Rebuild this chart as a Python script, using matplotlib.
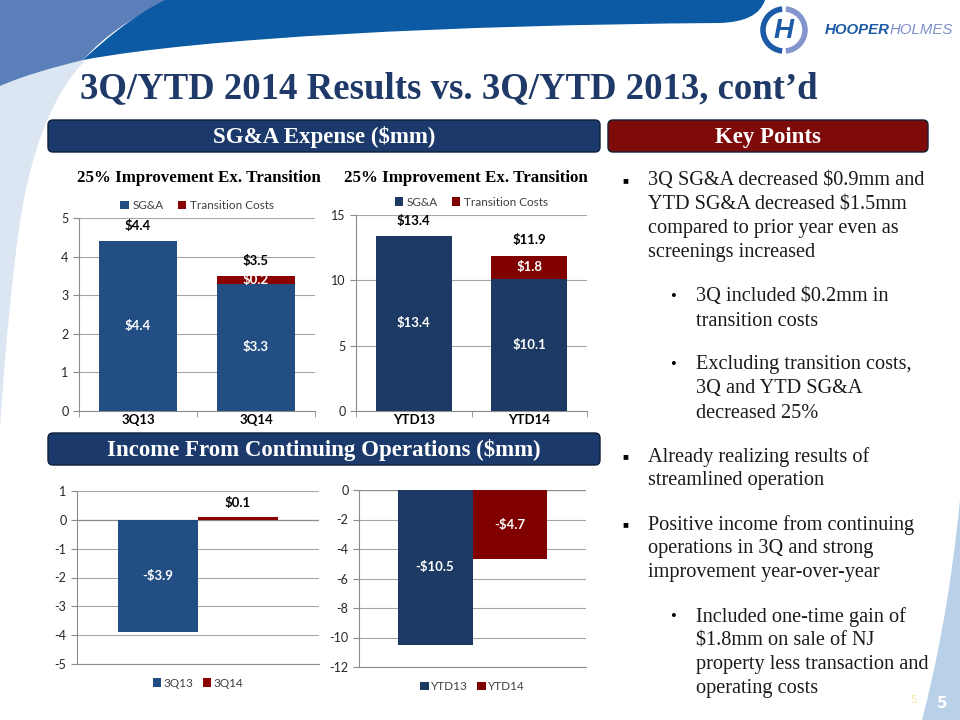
import numpy as np
import matplotlib.pyplot as plt
from matplotlib.patches import FancyBboxPatch, PathPatch, Arc
from matplotlib.path import Path

plt.rcParams['axes.unicode_minus'] = False

# ---- data ----
sga_q_cats = ['3Q13', '3Q14']
sga_q_base = [4.4, 3.3]
sga_q_trans = [0.0, 0.2]

sga_ytd_cats = ['YTD13', 'YTD14']
sga_ytd_base = [13.4, 10.1]
sga_ytd_trans = [0.0, 1.8]

inc_q_cats = ['3Q13', '3Q14']
inc_q = [-3.9, 0.1]

inc_ytd_cats = ['YTD13', 'YTD14']
inc_ytd = [-10.5, -4.7]

sub_title = '25% Improvement Ex. Transition'
key_points = [
    (0, ['3Q SG&A decreased $0.9mm and', 'YTD SG&A decreased $1.5mm',
         'compared to prior year even as', 'screenings increased']),
    (1, ['3Q included $0.2mm in', 'transition costs']),
    (1, ['Excluding transition costs,', '3Q and YTD SG&A', 'decreased 25%']),
    (0, ['Already realizing results of', 'streamlined operation']),
    (0, ['Positive income from continuing', 'operations in 3Q and strong',
         'improvement year-over-year']),
    (1, ['Included one-time gain of', '$1.8mm on sale of NJ',
         'property less transaction and', 'operating costs']),
]

SERIF = 'Liberation Serif'
SANS = 'Lato'
NAVY = '#1B3A6B'
RED = '#7E0A0A'
GRID = '#A6A6A6'


def esc(s):
    return s.replace('$', r'\$')


def money(v):
    return esc(('-$%.1f' if v < 0 else '$%.1f') % abs(v))


def rect(l, t, r, b):
    return [l / 960, 1 - b / 720, (r - l) / 960, (b - t) / 720]


fig = plt.figure(figsize=(9.6, 7.2), dpi=100)

# background layer in pixel coordinates
bg = fig.add_axes([0, 0, 1, 1], zorder=-5)
bg.set_xlim(0, 960)
bg.set_ylim(720, 0)
bg.axis('off')

M, L, C = Path.MOVETO, Path.LINETO, Path.CURVE4
light = Path([(0, 0), (100, 0), (90, 55),
              (45, 100), (25, 170), (15, 260),
              (8, 320), (3, 380), (0, 430), (0, 0)],
             [M, L, L, C, C, C, C, C, C, L])
bg.add_patch(PathPatch(light, fc='#DCE6F2', ec='none'))
medium = Path([(0, 0), (170, 0), (135, 15), (105, 35), (83, 60),
               (55, 67), (25, 75), (0, 86), (0, 0)],
              [M, L, C, C, C, C, C, C, L])
bg.add_patch(PathPatch(medium, fc='#5B7FB8', ec='none'))
dark = Path([(165, 0), (765, 0), (760, 15), (745, 22), (720, 23),
             (450, 25), (200, 38), (83, 60),
             (110, 35), (135, 15), (165, 0)],
            [M, L, C, C, C, C, C, C, C, C, C])
bg.add_patch(PathPatch(dark, fc='#0B5AA3', ec='none'))
corner = Path([(960, 500), (950, 600), (935, 670), (922, 720), (960, 720), (960, 500)],
              [M, C, C, C, L, L])
bg.add_patch(PathPatch(corner, fc='#B9D1E8', ec='none'))

# logo
bg.add_patch(Arc((784, 30), 42, 42, theta1=95, theta2=265, color='#1B5AA6', lw=4))
bg.add_patch(Arc((784, 30), 42, 42, theta1=275, theta2=85, color='#8494CC', lw=4))
bg.text(784, 31, 'H', ha='center', va='center', fontsize=20, fontweight='bold',
        style='italic', color='#1B5AA6', family='Liberation Sans')
t1 = bg.text(825, 30, 'HOOPER', ha='left', va='center', fontsize=10.8, fontweight='bold',
             style='italic', color='#1B5AA6', family='Liberation Sans')
bg.annotate('HOLMES', xy=(1, 0.5), xycoords=t1, ha='left', va='center', fontsize=10.8,
            style='italic', color='#7F90CC', family='Liberation Sans')

# title and section bars
bg.text(80, 89, '3Q/YTD 2014 Results vs. 3Q/YTD 2013, cont\u2019d', ha='left', va='center',
        fontsize=26.5, fontweight='bold', color='#1F3A68', family=SERIF)

bars = [(48, 120, 600, 152, NAVY, 'SG&A Expense (\\$mm)'),
        (608, 120, 928, 152, RED, 'Key Points'),
        (48, 433, 600, 465, NAVY, 'Income From Continuing Operations (\\$mm)')]
for l, t, r, b, col, txt in bars:
    bg.add_patch(FancyBboxPatch((l, t), r - l, b - t, boxstyle='round,pad=0,rounding_size=5',
                                fc=col, ec='#0E1F38', lw=1))
    bg.text((l + r) / 2, (t + b) / 2 + 1, txt, ha='center', va='center', fontsize=16.5,
            fontweight='bold', color='white', family=SERIF)

bg.text(199, 178, sub_title, ha='center', va='center', fontsize=12.2, fontweight='bold',
        family=SERIF, color='black')
bg.text(466, 178, sub_title, ha='center', va='center', fontsize=12.2, fontweight='bold',
        family=SERIF, color='black')

# key points text
y = 181
for level, lines in key_points:
    bx = 622 if level == 0 else 670
    mark = '\u25a0' if level == 0 else '\u2022'
    bg.text(bx, y, mark, ha='left', va='center', fontsize=7 if level == 0 else 12,
            family=[SERIF, 'DejaVu Sans'], color='black')
    for line in lines:
        bg.text(bx + 26, y, esc(line), ha='left', va='center', fontsize=14.6,
                family=SERIF, color='#1A1A1A')
        y += 24
    y += 20

bg.text(942, 704, '5', ha='center', va='center', fontsize=11, fontweight='bold',
        color='white', family='DejaVu Sans')
bg.text(914, 700, '5', ha='center', va='center', fontsize=8, color='#F4E9A8',
        family='DejaVu Sans')


def style_axes(ax):
    ax.set_facecolor('none')
    ax.yaxis.grid(True, color=GRID, lw=0.8)
    ax.set_axisbelow(True)
    for s in ['top', 'right']:
        ax.spines[s].set_visible(False)
    for s in ['left', 'bottom']:
        ax.spines[s].set_color('#8C8C8C')
    ax.tick_params(axis='y', length=4, color='#8C8C8C', labelsize=9, labelcolor='#262626')
    for lab in ax.get_yticklabels():
        lab.set_family(SANS)


def stacked(r, cats, base, trans, ymax, step, c_base, c_trans):
    ax = fig.add_axes(rect(*r))
    x = np.arange(len(cats))
    ax.bar(x, base, 0.66, color=c_base, label='SG&A', zorder=3)
    ax.bar(x, trans, 0.66, bottom=base, color=c_trans, label='Transition Costs', zorder=3)
    for xi, b, t in zip(x, base, trans):
        ax.text(xi, b / 2, money(b), ha='center', va='center', color='white',
                fontsize=9.5, fontweight='bold', family=SANS, zorder=4)
        if t > 0:
            ax.text(xi, b + t / 2, money(t), ha='center', va='center', color='white',
                    fontsize=9.5, fontweight='bold', family=SANS, zorder=4)
        ax.annotate(money(b + t), (xi, b + t), xytext=(0, 11), textcoords='offset points',
                    ha='center', va='center', fontsize=9.5, fontweight='bold',
                    family=SANS, color='black')
    ax.set_xlim(-0.5, len(cats) - 0.5)
    ax.set_ylim(0, ymax)
    ax.set_yticks(np.arange(0, ymax + 0.1, step))
    ax.set_xticks(x)
    ax.set_xticklabels(cats, fontsize=9.5, fontweight='bold', family=SANS)
    ax.set_xticks(np.arange(-0.5, len(cats)), minor=True)
    ax.tick_params(axis='x', which='major', length=0, pad=2)
    ax.tick_params(axis='x', which='minor', length=4, color='#8C8C8C')
    style_axes(ax)
    ax.legend(loc='center', bbox_to_anchor=(0.5, 1.065), ncol=2, frameon=False,
              handlelength=0.7, handleheight=0.7, handletextpad=0.3, columnspacing=1.2,
              prop={'family': SANS, 'size': 8.5}, labelcolor='#404040')
    return ax


def clustered(r, cats, vals, lo, hi, step, colors):
    ax = fig.add_axes(rect(*r))
    w = 0.33
    offs = (np.arange(len(vals)) - (len(vals) - 1) / 2) * w
    for xo, v, c, cat in zip(offs, vals, colors, cats):
        ax.bar(xo, v, w, color=c, label=cat, zorder=3)
        if abs(v) < 1:
            ax.annotate(money(v), (xo, v), xytext=(0, 10), textcoords='offset points',
                        ha='center', va='center', fontsize=9.5, fontweight='bold',
                        family=SANS, color='black')
        else:
            ax.text(xo, v / 2, money(v), ha='center', va='center', color='white',
                    fontsize=9.5, fontweight='bold', family=SANS, zorder=4)
    ax.axhline(0, color='#8C8C8C', lw=0.9, zorder=2)
    ax.set_xlim(-0.5, 0.5)
    ax.set_ylim(lo, hi)
    ax.set_yticks(np.arange(lo, hi + 0.1, step))
    ax.set_xticks([])
    style_axes(ax)
    ax.legend(loc='center', bbox_to_anchor=(0.5, -0.11), ncol=2, frameon=False,
              handlelength=0.7, handleheight=0.7, handletextpad=0.2, columnspacing=0.8,
              prop={'family': SANS, 'size': 8.5}, labelcolor='#404040')
    return ax


stacked((79, 218, 315, 411), sga_q_cats, sga_q_base, sga_q_trans, 5, 1, '#234E84', '#8B0000')
stacked((356, 215, 587, 411), sga_ytd_cats, sga_ytd_base, sga_ytd_trans, 15, 5, '#1C3A64', '#800000')
clustered((77, 491, 319, 664), inc_q_cats, inc_q, -5, 1, 1, ['#234E84', '#8B0000'])
clustered((359, 490, 586, 667), inc_ytd_cats, inc_ytd, -12, 0, 2, ['#1C3A64', '#800000'])

fig.savefig('out.png', dpi=100)
